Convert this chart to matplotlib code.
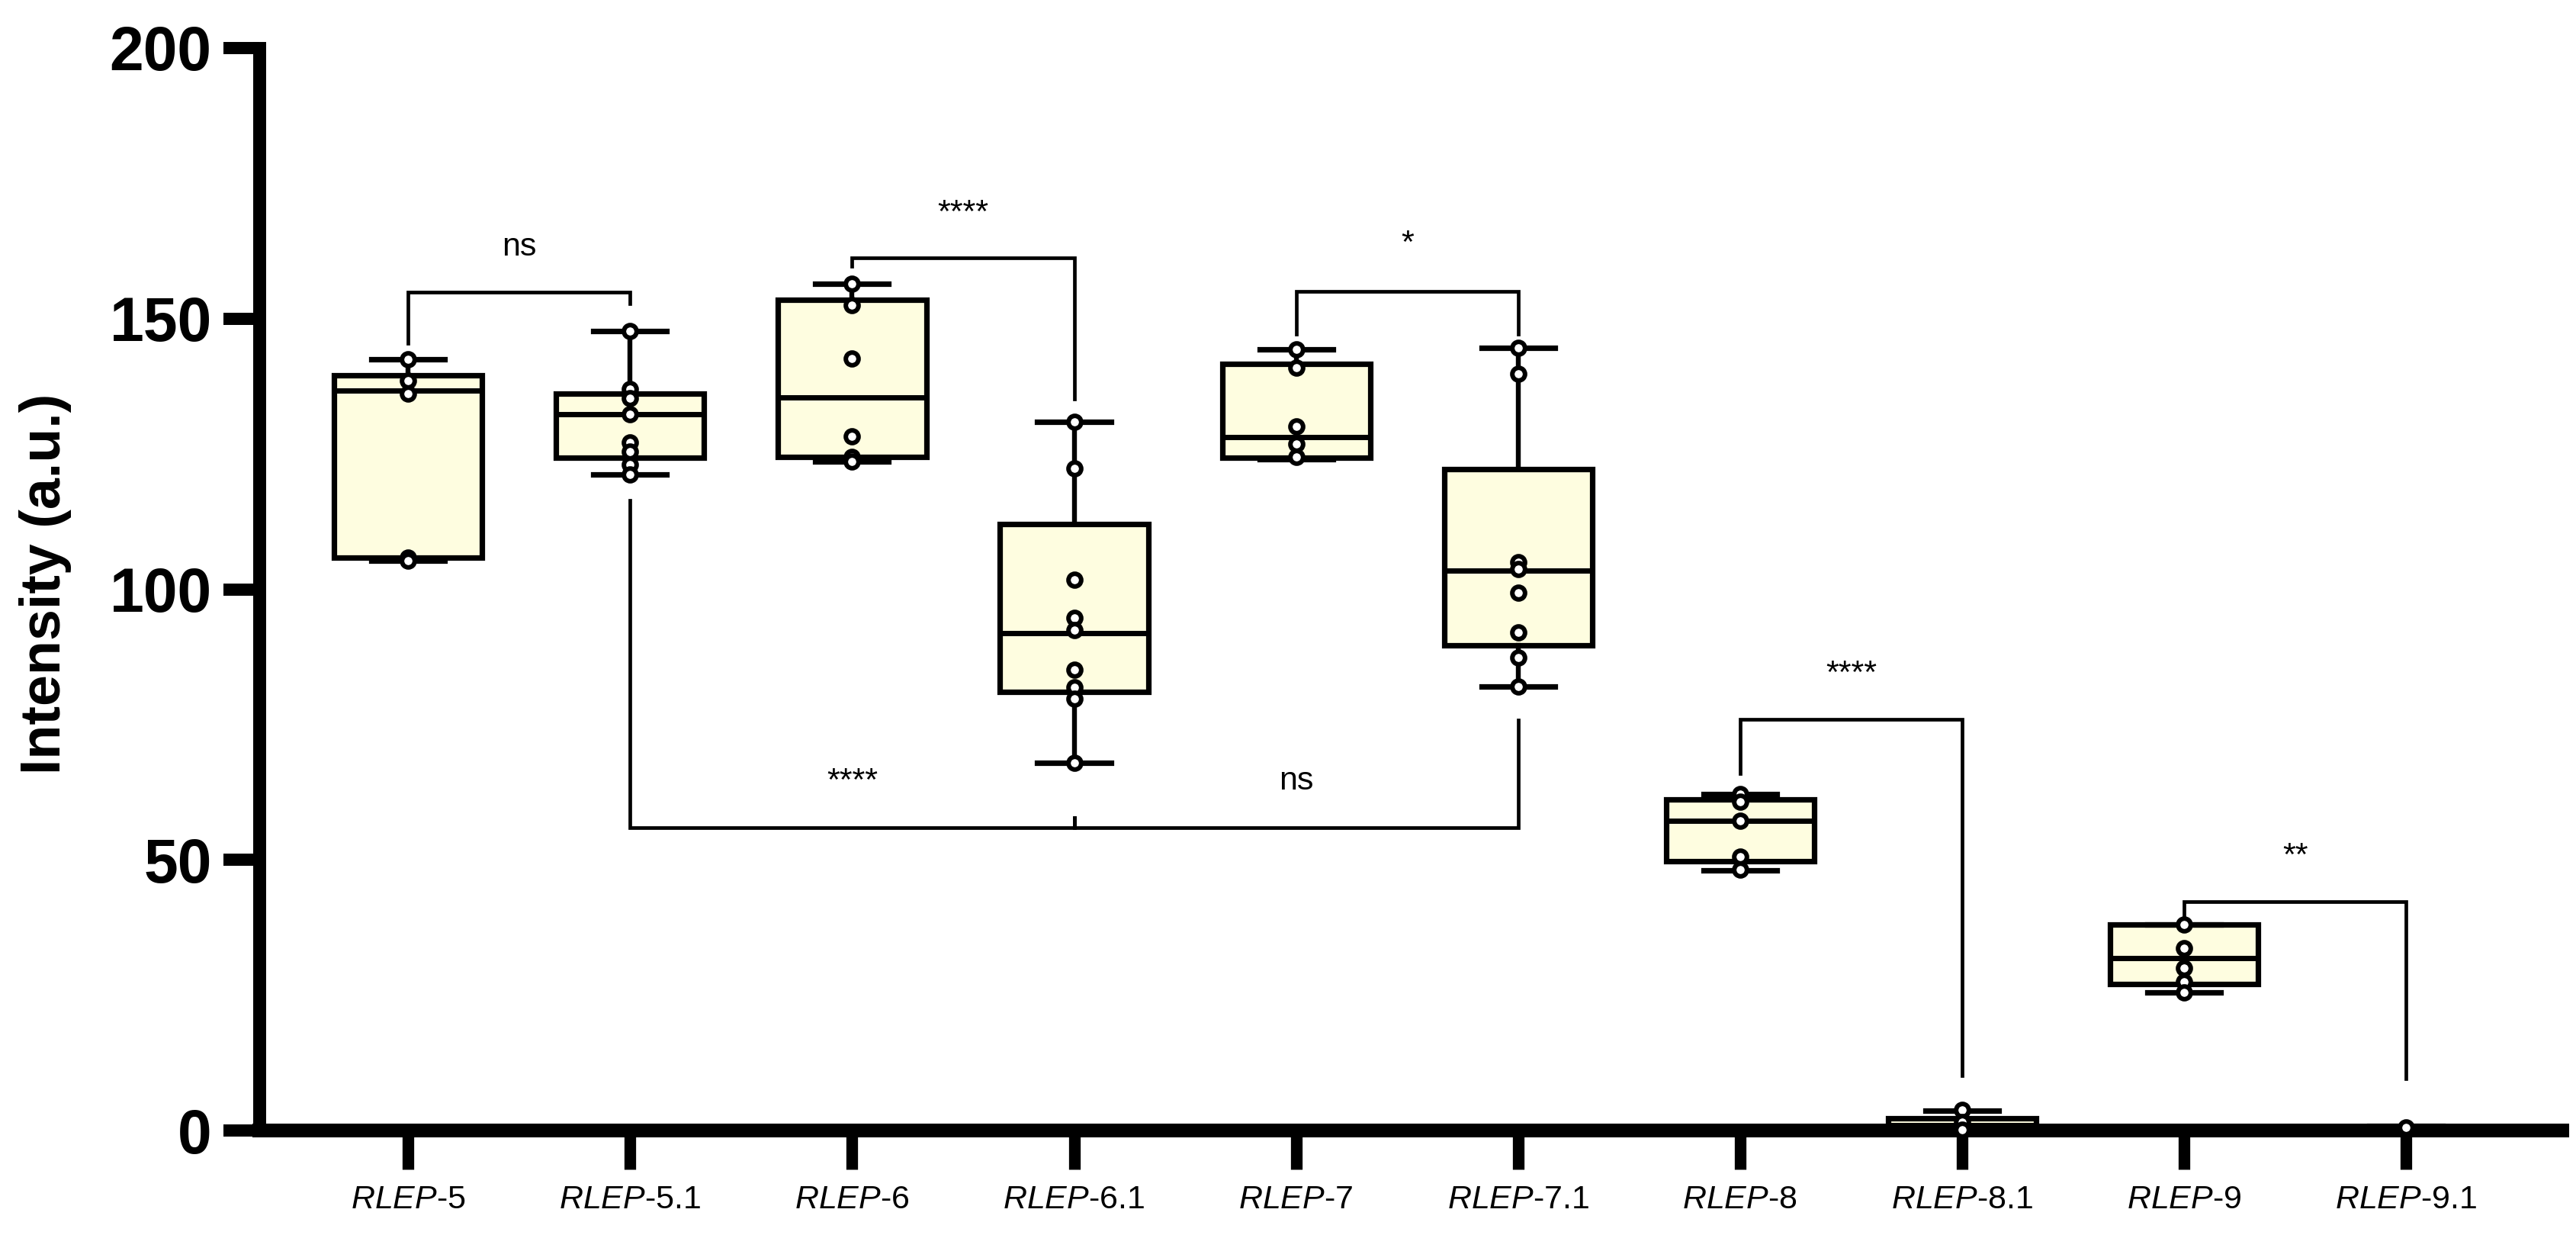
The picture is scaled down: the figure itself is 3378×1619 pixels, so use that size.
import matplotlib
matplotlib.use("Agg")
import matplotlib.pyplot as plt

plt.rcParams["font.family"] = ["Liberation Sans", "DejaVu Sans"]
plt.rcParams["mathtext.fontset"] = "custom"
plt.rcParams["mathtext.it"] = "Liberation Sans:italic"
plt.rcParams["mathtext.rm"] = "Liberation Sans"

# group names (RLEP part is italic)
groups = ["5", "5.1", "6", "6.1", "7", "7.1", "8", "8.1", "9", "9.1"]

# box summary (min, Q1, median, Q3, max)
whis_lo = [105.3, 121.2, 123.6, 67.9, 124.0, 82.0, 48.0, 0.1, 25.5, 0.1]
q1 = [105.8, 124.3, 124.4, 81.0, 124.3, 89.6, 49.8, 0.4, 27.1, 0.2]
medians = [136.7, 132.4, 135.5, 91.9, 128.1, 103.4, 57.2, 1.0, 31.9, 0.4]
q3 = [139.5, 136.1, 153.5, 112.1, 141.6, 122.2, 61.2, 2.2, 38.1, 0.6]
whis_hi = [142.5, 147.7, 156.4, 131.0, 144.3, 144.6, 62.2, 3.7, 38.1, 0.8]

# individual points
points = [
    [142.5, 138.5, 136.1, 105.8, 105.3],
    [147.7, 137.0, 135.3, 132.3, 127.1, 125.4, 123.0, 121.2],
    [156.4, 152.5, 142.7, 128.3, 124.4, 123.6],
    [130.9, 122.4, 101.7, 94.7, 92.5, 85.2, 81.9, 79.8, 67.9],
    [144.3, 140.9, 130.1, 126.8, 124.4],
    [144.6, 139.8, 105.0, 103.7, 99.3, 92.0, 87.4, 82.0],
    [62.2, 60.8, 57.2, 50.6, 48.2],
    [3.8, 1.6, 0.2],
    [38.1, 33.7, 30.0, 27.5, 25.5],
    [0.5],
]

# significance brackets: from group, to group, top y, left leg end, right leg end, label, label baseline
br_from = [0, 2, 4, 6, 8, 1, 3]
br_to = [1, 3, 5, 7, 9, 3, 5]
br_top = [154.9, 161.2, 155.1, 76.0, 42.3, 56.0, 56.0]
br_left_end = [145.5, 159.7, 147.2, 65.9, 39.5, 116.4, 57.8]
br_right_end = [152.8, 135.1, 147.2, 10.2, 9.6, 57.8, 75.9]
br_labels = ["ns", "****", "*", "****", "**", "****", "ns"]
br_label_y = [161.6, 167.8, 162.2, 82.7, 49.0, 62.8, 63.0]

box_color = "#FEFDE0"

fig = plt.figure(figsize=(33.78, 16.19), dpi=100)
ax = fig.add_axes([0.1007, 0.0846, 0.894, 0.8765])

stats = []
for i in range(len(groups)):
    stats.append({"whislo": whis_lo[i], "q1": q1[i], "med": medians[i],
                  "q3": q3[i], "whishi": whis_hi[i], "fliers": []})

pos = list(range(len(groups)))
ax.bxp(stats, positions=pos, widths=0.667, capwidths=0.33, patch_artist=True,
       showfliers=False,
       boxprops=dict(facecolor=box_color, edgecolor="black", linewidth=5.2),
       medianprops=dict(color="black", linewidth=5.0),
       whiskerprops=dict(color="black", linewidth=4.6),
       capprops=dict(color="black", linewidth=5.2))

# dots
for i, vals in enumerate(points):
    ax.plot([i] * len(vals), vals, "o", ms=12, mfc="white", mec="black",
            mew=4.3, zorder=5, linestyle="none", clip_on=False)

# brackets
for k in range(len(br_from)):
    x1, x2 = br_from[k], br_to[k]
    ax.plot([x1, x1, x2, x2], [br_left_end[k], br_top[k], br_top[k], br_right_end[k]],
            color="black", linewidth=3.4, solid_joinstyle="miter", zorder=4)
    ax.text((x1 + x2) / 2, br_label_y[k], br_labels[k], ha="center", va="baseline",
            fontsize=31, color="black")

ax.set_xlim(-0.670, 9.704)
ax.set_ylim(0, 200)
ax.set_yticks([0, 50, 100, 150, 200])
ax.set_xticks(pos)
ax.set_xticklabels([r"$\mathit{RLEP}$-" + g for g in groups])

for s in ["top", "right"]:
    ax.spines[s].set_visible(False)
ax.spines["left"].set_linewidth(12.2)
ax.spines["bottom"].set_linewidth(13.0)
ax.spines["left"].set_capstyle("projecting")

ax.tick_params(axis="y", length=34, width=11.5, pad=11, labelsize=58)
ax.tick_params(axis="x", length=37, width=11, pad=14, labelsize=31)
for lab in ax.get_yticklabels():
    lab.set_fontweight("bold")

fig.text(60 / 3378, 1 - 765 / 1619, "Intensity (a.u.)", rotation=90, ha="center",
         va="center", fontsize=53, fontweight="bold")

fig.savefig("out.png", dpi=100)
